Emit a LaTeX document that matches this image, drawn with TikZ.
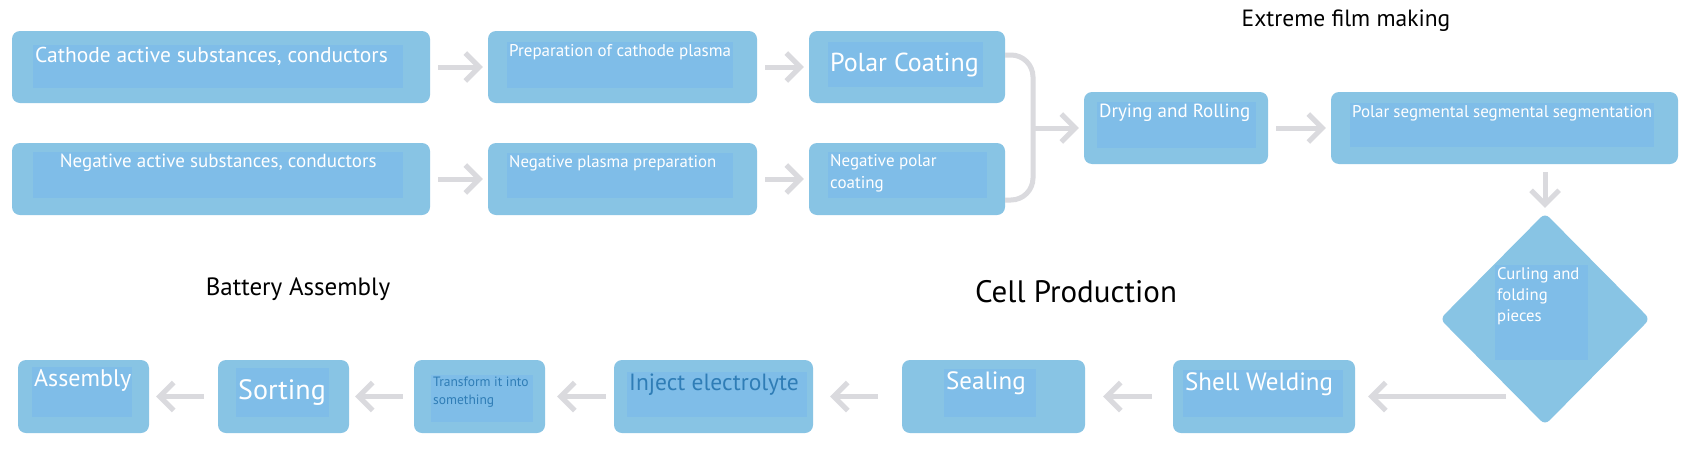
\documentclass[tikz,border=0pt]{standalone}
\usepackage{fontspec}
\setmainfont{PT Sans}
\usetikzlibrary{arrows.meta,shapes.geometric}

\definecolor{boxblue}{HTML}{88C4E4}
\definecolor{padblue}{HTML}{7FBDE8}
\definecolor{arrowgray}{HTML}{DADADE}
\definecolor{inkblue}{HTML}{2F7DB6}

% text area inside a step: [inner pos]{width}{height}{text}
\newcommand{\padtext}[4][t]{\parbox[t][#3][#1]{#2}{\raggedright #4}}
\newcommand{\sz}[2]{\fontsize{#1}{#2}\selectfont}

\begin{document}
\begin{tikzpicture}[x=1pt, y=-1pt,
    stepbox/.style={rectangle, rounded corners=8pt, fill=boxblue, inner sep=0pt},
    pad/.style={fill=padblue, inner sep=2pt, anchor=north west, text=white},
    flow/.style={draw=arrowgray, line width=5pt, -{Straight Barb[length=14pt, width=28pt]}, shorten <=8pt, shorten >=5pt},
    link/.style={draw=arrowgray, line width=5pt, rounded corners=22pt},
    title/.style={text=black}]

    \fill[white] (0,0) rectangle (1689,464);
    \useasboundingbox (0,0) rectangle (1689,464);

    % electrode making
    \node[stepbox, minimum width=418pt, minimum height=72pt] (cath) at (221,67) {};
    \node[pad] (cathpad) at (33,45) {\padtext{366pt}{39pt}{\sz{21.5}{25}Cathode active substances, conductors}};
    \node[stepbox, minimum width=418pt, minimum height=72pt] (nega) at (221,179) {};
    \node[pad] (negapad) at (33,152) {\padtext{366pt}{42pt}{\centering\sz{19}{23}Negative active substances, conductors}};

    \node[stepbox, minimum width=269pt, minimum height=72pt] (prep) at (622.5,67) {};
    \node[pad] (preppad) at (507,42) {\padtext{222pt}{42pt}{\sz{17}{20}Preparation of cathode plasma}};
    \node[stepbox, minimum width=269pt, minimum height=72pt] (negp) at (622.5,179) {};
    \node[pad] (negppad) at (507,153) {\padtext{222pt}{41pt}{\sz{16.8}{20}Negative plasma preparation}};

    \node[stepbox, minimum width=196pt, minimum height=72pt] (pc) at (907,67) {};
    \node[pad] (pcpad) at (828,42) {\padtext[c]{151pt}{41pt}{\sz{26}{30}Polar Coating}};
    \node[stepbox, minimum width=196pt, minimum height=72pt] (npc) at (907,179) {};
    \node[pad] (npcpad) at (828,152) {\padtext{155pt}{42pt}{\sz{17}{22}Negative polar\\coating}};

    \node[stepbox, minimum width=184pt, minimum height=72pt] (dry) at (1176,128) {};
    \node[pad] (drypad) at (1097,102) {\padtext{155pt}{42pt}{\sz{19}{23}Drying and Rolling}};
    \node[stepbox, minimum width=347pt, minimum height=72pt] (seg) at (1504.5,128) {};
    \node[pad] (segpad) at (1350,103) {\padtext{300pt}{40pt}{\sz{17}{21}Polar segmental segmental segmentation}};

    \node[diamond, fill=boxblue, minimum width=210pt, minimum height=212pt, inner sep=0pt, rounded corners=6pt] (diam) at (1545,319) {};
    \node[pad] (diampad) at (1495,265) {\padtext{89pt}{91pt}{\sz{16.7}{21}Curling and\\folding\\pieces}};

    % cell production and assembly
    \node[stepbox, minimum width=182pt, minimum height=73pt] (shell) at (1264,396.5) {};
    \node[pad] (shellpad) at (1183,370) {\padtext{156pt}{43pt}{\sz{25}{29}Shell Welding}};
    \node[stepbox, minimum width=183pt, minimum height=73pt] (seal) at (993.5,396.5) {};
    \node[pad] (sealpad) at (944,369) {\padtext{88pt}{44pt}{\sz{25}{29}Sealing}};
    \node[stepbox, minimum width=199pt, minimum height=73pt] (inj) at (713.5,396.5) {};
    \node[pad, text=inkblue] (injpad) at (627,372) {\padtext{176pt}{41pt}{\sz{23.5}{27}Inject electrolyte}};
    \node[stepbox, minimum width=131pt, minimum height=73pt] (trans) at (479.5,396.5) {};
    \node[pad, text=inkblue] (transpad) at (431,375) {\padtext{98pt}{43pt}{\sz{13.5}{18}\mbox{Transform it into}\\something}};
    \node[stepbox, minimum width=131pt, minimum height=73pt] (sort) at (283.5,396.5) {};
    \node[pad] (sortpad) at (236,368) {\padtext[c]{89pt}{45pt}{\sz{28}{32}Sorting}};
    \node[stepbox, minimum width=131pt, minimum height=73pt] (asm) at (83.5,396.5) {};
    \node[pad] (asmpad) at (32,367) {\padtext{96pt}{46pt}{\sz{24}{28}Assembly}};

    % section titles
    \node[title, font=\sz{23.5}{28}] (film) at (1346,21) {Extreme film making};
    \node[title, font=\sz{25}{30}] (battery) at (298,289) {Battery Assembly};
    \node[title, font=\sz{31}{36}] (cell) at (1076,292) {Cell Production};

    % connectors
    \draw[flow] (cath) -- (prep);
    \draw[flow] (prep) -- (pc);
    \draw[flow] (nega) -- (negp);
    \draw[flow] (negp) -- (npc);

    \coordinate (fork) at (1033,128);
    \draw[link] ([yshift=12pt]pc.east) -| (fork) |- ([yshift=-21pt]npc.east);
    \draw[flow, shorten <=0pt] (fork) -- (dry);
    \draw[flow] (dry) -- (seg);
    \draw[flow] (seg.south -| diam.north) -- (diam.north);

    \coordinate (turn) at (1506,396.5);
    \draw[flow, shorten <=0pt, shorten >=13pt] (turn) -- (shell);
    \draw[flow, shorten <=21pt, shorten >=18pt] (shell) -- (seal);
    \draw[flow, shorten <=24pt, shorten >=17pt] (seal) -- (inj);
    \draw[flow, shorten <=8pt, shorten >=12pt] (inj) -- (trans);
    \draw[flow, shorten <=11pt, shorten >=6pt] (trans) -- (sort);
    \draw[flow, shorten <=14pt, shorten >=7pt] (sort) -- (asm);
\end{tikzpicture}
\end{document}
